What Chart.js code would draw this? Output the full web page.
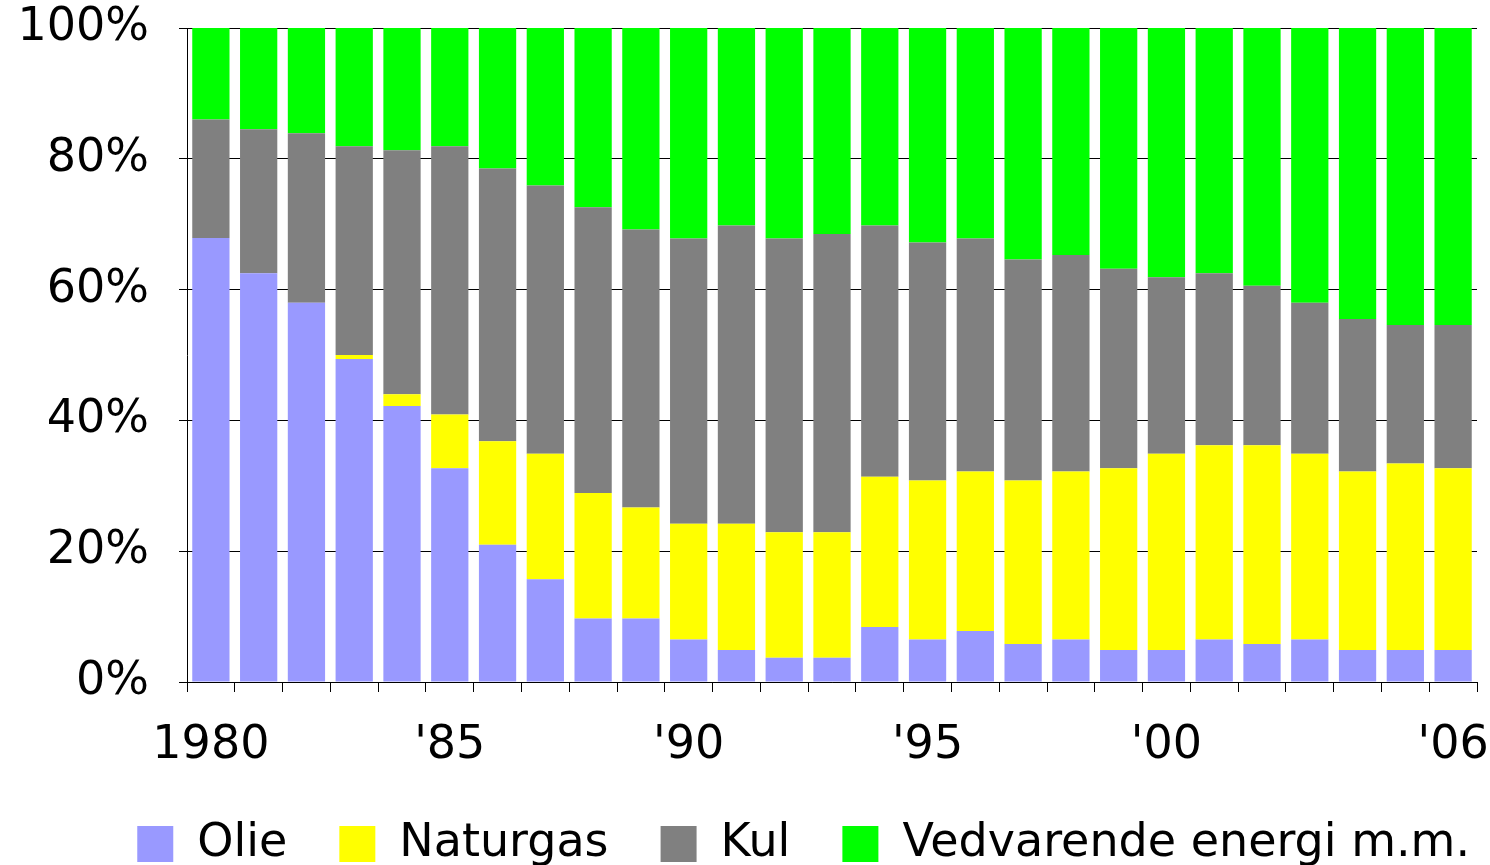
<!DOCTYPE html>
<html>
<head>
<meta charset="utf-8">
<script src="https://cdn.jsdelivr.net/npm/chart.js@4/dist/chart.umd.min.js"></script>
<style>
  html, body { margin: 0; padding: 0; background: #fff; }
  #wrap { width: 1490px; height: 865px; }
</style>
</head>
<body>
<div id="wrap"><canvas id="chart" width="1490" height="865"></canvas></div>
<script>
  const years = ['1980', '1981', '1982', '1983', '1984', '1985', '1986', '1987', '1988', '1989',
    '1990', '1991', '1992', '1993', '1994', '1995', '1996', '1997', '1998', '1999',
    '2000', '2001', '2002', '2003', '2004', '2005', '2006'];
  const xTickLabels = ['1980', '', '', '', '', "'85", '', '', '', '',
    "'90", '', '', '', '', "'95", '', '', '', '',
    "'00", '', '', '', '', '', "'06"];

  // shares in percent
  const olie = [67.9, 62.5, 58.0, 49.4, 42.2, 32.7, 21.0, 15.7, 9.7, 9.7,
    6.5, 4.9, 3.7, 3.7, 8.4, 6.5, 7.8, 5.8, 6.5, 4.9,
    4.9, 6.5, 5.8, 6.5, 4.9, 4.9, 4.9];
  const naturgas = [0, 0, 0, 0.6, 1.8, 8.2, 15.8, 19.2, 19.2, 17.0,
    17.7, 19.3, 19.2, 19.2, 23.0, 24.3, 24.4, 25.0, 25.7, 27.8,
    30.0, 29.7, 30.4, 28.4, 27.3, 28.5, 27.8];
  const kul = [18.1, 22.0, 25.9, 31.9, 37.3, 41.0, 41.7, 41.0, 43.7, 42.5,
    43.6, 45.6, 44.9, 45.6, 38.4, 36.4, 35.6, 33.8, 33.1, 30.5,
    27.0, 26.3, 24.4, 23.1, 23.3, 21.2, 21.9];
  const vedvarende = [14.0, 15.5, 16.1, 18.1, 18.7, 18.1, 21.5, 24.1, 27.4, 30.8,
    32.2, 30.2, 32.2, 31.5, 30.2, 32.8, 32.2, 35.4, 34.7, 36.8,
    38.1, 37.5, 39.4, 42.0, 44.5, 45.4, 45.4];
  const yTicks = [0, 20, 40, 60, 80, 100];

  const font = { family: "'DejaVu Sans', Verdana, sans-serif", size: 46 };

  const makeSet = (label, data, color) => ({
    label,
    data,
    backgroundColor: color,
    borderWidth: 0,
    barPercentage: 0.78,
    categoryPercentage: 1
  });

  // legend row under the axis: wide gaps between items, right edge near the canvas edge
  const bottomLegend = {
    id: 'bottomLegend',
    afterDraw(chart) {
      const { ctx } = chart;
      const box = 36;
      const gap = 24;
      const spacing = 52;
      const rightEdge = 1470;
      const midY = 844;
      ctx.save();
      ctx.font = `${font.size}px ${font.family}`;
      const items = chart.data.datasets.map((ds) => ({
        text: ds.label,
        color: ds.backgroundColor,
        width: ctx.measureText(ds.label).width
      }));
      const total = items.reduce((sum, it) => sum + box + gap + it.width, 0) + spacing * (items.length - 1);
      let x = rightEdge - total;
      ctx.textBaseline = 'middle';
      ctx.textAlign = 'left';
      items.forEach((it) => {
        ctx.fillStyle = it.color;
        ctx.fillRect(x, midY - box / 2, box, box);
        ctx.fillStyle = '#000';
        ctx.fillText(it.text, x + box + gap, midY);
        x += box + gap + it.width + spacing;
      });
      ctx.restore();
    }
  };

  new Chart(document.getElementById('chart'), {
    type: 'bar',
    data: {
      labels: years,
      datasets: [
        makeSet('Olie', olie, '#9999ff'),
        makeSet('Naturgas', naturgas, '#ffff00'),
        makeSet('Kul', kul, '#808080'),
        makeSet('Vedvarende energi m.m.', vedvarende, '#00ff00')
      ]
    },
    plugins: [bottomLegend],
    options: {
      responsive: false,
      animation: false,
      layout: { padding: { left: 20, right: 13, top: 28, bottom: 92 } },
      plugins: {
        tooltip: { enabled: false },
        legend: { display: false }
      },
      scales: {
        x: {
          stacked: true,
          afterFit: (axis) => {
            axis.height = 91;
            axis.paddingLeft = 0;
            axis.paddingRight = 0;
          },
          grid: {
            offset: true,
            drawOnChartArea: false,
            drawTicks: true,
            tickLength: 10,
            color: '#000',
            lineWidth: 1
          },
          border: { display: true, color: '#000', width: 1 },
          ticks: {
            autoSkip: false,
            maxRotation: 0,
            minRotation: 0,
            padding: 26,
            color: '#000',
            font,
            callback: (value, index) => xTickLabels[index]
          }
        },
        y: {
          stacked: true,
          min: 0,
          max: 100,
          afterBuildTicks: (axis) => {
            axis.ticks = yTicks.map((v) => ({ value: v }));
          },
          afterFit: (axis) => {
            axis.width = 167;
            axis.paddingTop = 0;
            axis.paddingBottom = 0;
          },
          grid: {
            color: '#000',
            lineWidth: 1,
            tickLength: 8
          },
          border: { display: true, color: '#000', width: 1 },
          ticks: {
            padding: 30,
            color: '#000',
            font,
            callback: (value) => value + '%'
          }
        }
      }
    }
  });
</script>
</body>
</html>
